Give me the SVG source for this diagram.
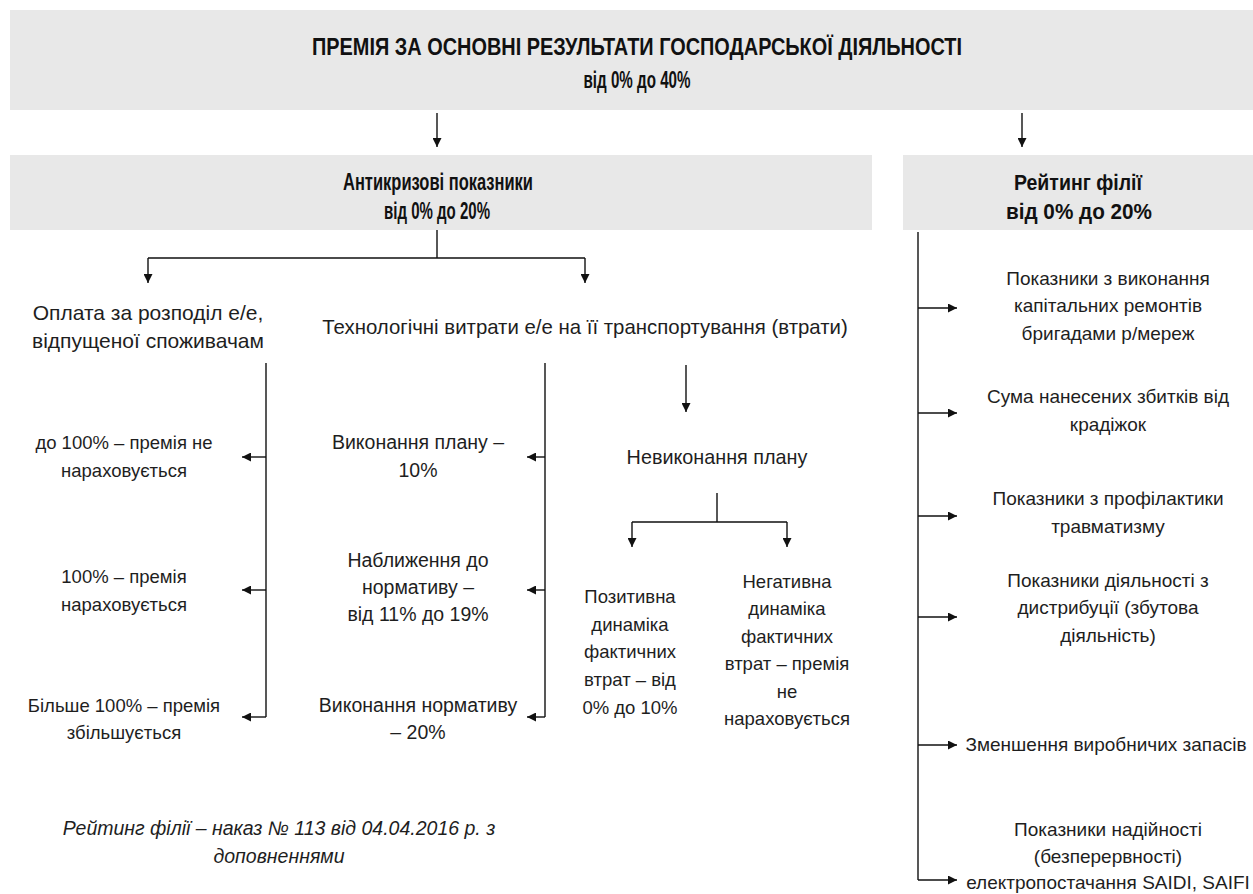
<svg xmlns="http://www.w3.org/2000/svg" width="1253" height="894" viewBox="0 0 1253 894">
<defs>
<marker id="ah" viewBox="0 0 10 10" refX="10" refY="5" markerWidth="9" markerHeight="9" markerUnits="userSpaceOnUse" orient="auto">
<path d="M0,0 L10,5 L0,10 z" fill="#111"/>
</marker>
<style>
.box{fill:#e8e8e8}
.t{font-family:"Liberation Sans",Arial,sans-serif;font-size:18.5px;fill:#1e1e1e;text-anchor:middle}
.m{font-size:19.5px}
.r{font-size:19px}
.big{font-size:21px}
.tech{font-size:20.4px}
.nv{font-size:19.8px}
.b{font-family:"Liberation Sans",Arial,sans-serif;font-weight:bold;fill:#111;text-anchor:middle}
.i{font-family:"Liberation Sans",Arial,sans-serif;font-style:italic;font-size:19.5px;fill:#1e1e1e;text-anchor:middle}
.ln{fill:none;stroke:#111;stroke-width:1.4}
.ar{fill:none;stroke:#111;stroke-width:1.4;marker-end:url(#ah)}
</style>
</defs>
<rect width="1253" height="894" fill="#fff"/>

<g id="top">
<rect class="box" x="10" y="10" width="1243" height="100"/>
<text class="b" x="637" y="55" font-size="24" textLength="650" lengthAdjust="spacingAndGlyphs">ПРЕМІЯ ЗА ОСНОВНІ РЕЗУЛЬТАТИ ГОСПОДАРСЬКОЇ ДІЯЛЬНОСТІ</text>
<text class="b" x="637" y="88" font-size="23" textLength="107" lengthAdjust="spacingAndGlyphs">від 0% до 40%</text>
</g>

<g id="anti">
<rect class="box" x="10" y="155" width="862" height="75"/>
<text class="b" x="438" y="190" font-size="23" textLength="190" lengthAdjust="spacingAndGlyphs">Антикризові показники</text>
<text class="b" x="437" y="219" font-size="23" textLength="106" lengthAdjust="spacingAndGlyphs">від 0% до 20%</text>
</g>

<g id="rating">
<rect class="box" x="903" y="155" width="350" height="75"/>
<text class="b" x="1078" y="190" font-size="22" textLength="128" lengthAdjust="spacingAndGlyphs">Рейтинг філії</text>
<text class="b" x="1079" y="219" font-size="22" textLength="146" lengthAdjust="spacingAndGlyphs">від 0% до 20%</text>
</g>

<g id="oplata">
<text class="t big" x="148" y="320">Оплата за розподіл е/е,</text>
<text class="t big" x="148" y="348">відпущеної споживачам</text>
</g>
<g id="tech">
<text class="t tech" x="585" y="334">Технологічні витрати е/е на її транспортування (втрати)</text>
</g>

<g id="l1"><text class="t" x="124" y="449">до 100% – премія не</text><text class="t" x="124" y="477">нараховується</text></g>
<g id="l2"><text class="t" x="124" y="583">100% – премія</text><text class="t" x="124" y="611">нараховується</text></g>
<g id="l3"><text class="t" x="124" y="712">Більше 100% – премія</text><text class="t" x="124" y="739">збільшується</text></g>

<g id="m1"><text class="t m" x="418" y="449">Виконання плану –</text><text class="t m" x="418" y="477">10%</text></g>
<g id="m2"><text class="t m" x="418" y="567">Наближення до</text><text class="t m" x="418" y="594">нормативу –</text><text class="t m" x="418" y="621">від 11% до 19%</text></g>
<g id="m3"><text class="t m" x="418" y="712">Виконання нормативу</text><text class="t m" x="418" y="739">– 20%</text></g>

<g id="nevyk"><text class="t nv" x="717" y="464">Невиконання плану</text></g>
<g id="poz">
<text class="t" x="630" y="603">Позитивна</text><text class="t" x="630" y="631">динаміка</text><text class="t" x="630" y="658">фактичних</text><text class="t" x="630" y="686">втрат – від</text><text class="t" x="630" y="714">0% до 10%</text>
</g>
<g id="neg">
<text class="t" x="787" y="588">Негативна</text><text class="t" x="787" y="615">динаміка</text><text class="t" x="787" y="643">фактичних</text><text class="t" x="787" y="670">втрат – премія</text><text class="t" x="787" y="698">не</text><text class="t" x="787" y="725">нараховується</text>
</g>

<g id="r1"><text class="t r" x="1108" y="285">Показники з виконання</text><text class="t r" x="1108" y="312">капітальних ремонтів</text><text class="t r" x="1108" y="340">бригадами р/мереж</text></g>
<g id="r2"><text class="t r" x="1108" y="403">Сума нанесених збитків від</text><text class="t r" x="1108" y="431">крадіжок</text></g>
<g id="r3"><text class="t r" x="1108" y="505">Показники з профілактики</text><text class="t r" x="1108" y="533">травматизму</text></g>
<g id="r4"><text class="t r" x="1108" y="587">Показники діяльності з</text><text class="t r" x="1108" y="614">дистрибуції (збутова</text><text class="t r" x="1108" y="642">діяльність)</text></g>
<g id="r5"><text class="t r" x="1106" y="751">Зменшення виробничих запасів</text></g>
<g id="r6"><text class="t r" x="1108" y="836">Показники надійності</text><text class="t r" x="1108" y="863">(безперервності)</text><text class="t r" x="1108" y="889">електропостачання SAIDI, SAIFI</text></g>

<g id="note">
<text class="i" x="279" y="835">Рейтинг філії – наказ № 113 від 04.04.2016 р. з</text>
<text class="i" x="279" y="863">доповненнями</text>
</g>

<g id="connectors">
<path class="ar" d="M437,113 V147"/>
<path class="ar" d="M1022,113 V147"/>
<path class="ln" d="M437,230 V258 M148,258 H585"/>
<path class="ar" d="M148,258 V283"/>
<path class="ar" d="M585,258 V283"/>
<path class="ln" d="M266,363 V717"/>
<path class="ar" d="M266,457 H242"/>
<path class="ar" d="M266,590 H242"/>
<path class="ar" d="M266,717 H242"/>
<path class="ln" d="M545,363 V717"/>
<path class="ar" d="M545,457 H527"/>
<path class="ar" d="M545,590 H527"/>
<path class="ar" d="M545,717 H527"/>
<path class="ar" d="M686,365 V412"/>
<path class="ln" d="M717,493 V522 M632,522 H787"/>
<path class="ar" d="M632,522 V547"/>
<path class="ar" d="M787,522 V547"/>
<path class="ln" d="M918,232 V880"/>
<path class="ar" d="M918,308 H957"/>
<path class="ar" d="M918,413 H957"/>
<path class="ar" d="M918,516 H957"/>
<path class="ar" d="M918,617 H957"/>
<path class="ar" d="M918,745 H957"/>
<path class="ar" d="M918,880 H957"/>
</g>
</svg>
